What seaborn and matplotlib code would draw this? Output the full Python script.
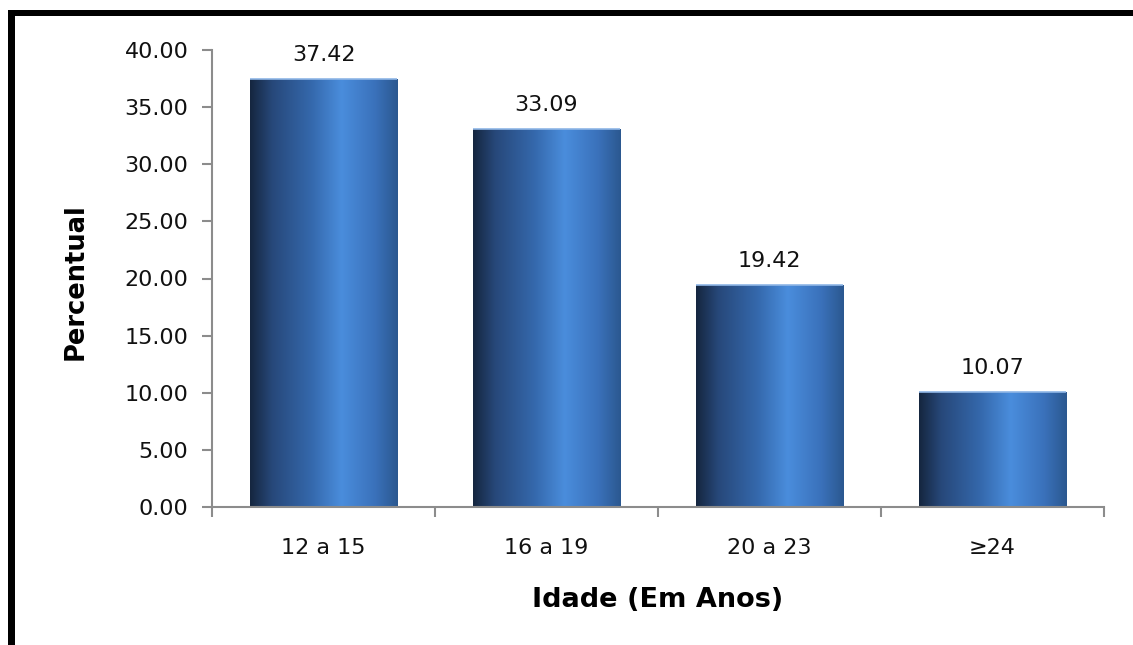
import numpy as np
import pandas as pd
import seaborn as sns
import matplotlib.pyplot as plt
from matplotlib.colors import LinearSegmentedColormap
from matplotlib.patches import Rectangle

# chart data
categories = ["12 a 15", "16 a 19", "20 a 23", "\u226524"]
percentual = [37.42, 33.09, 19.42, 10.07]

df = pd.DataFrame({"idade": categories, "pct": percentual})

sns.set_style("white")
plt.rcParams["font.family"] = ["DejaVu Sans"]
plt.rcParams["text.color"] = "#111111"

fig = plt.figure(figsize=(11.33, 6.45), dpi=100)
ax = fig.add_axes([212 / 1133, 1 - 507 / 645, 892 / 1133, 457 / 645])

sns.barplot(data=df, x="idade", y="pct", color="#3a74c0", width=0.66, ax=ax)

# horizontal gradient to fake the glossy cylinder look
grad_cmap = LinearSegmentedColormap.from_list(
    "bar", [(0.0, "#15263f"), (0.15, "#27487a"), (0.42, "#3569ad"),
            (0.62, "#4a8ddc"), (0.85, "#3a71ba"), (1.0, "#2b5890")])
grad = np.linspace(0, 1, 256).reshape(1, -1)
for p in ax.patches:
    x0, y0 = p.get_x(), p.get_y()
    w, h = p.get_width(), p.get_height()
    im = ax.imshow(grad, cmap=grad_cmap, aspect="auto",
                   extent=(x0, x0 + w, y0, y0 + h), zorder=p.get_zorder() + 0.1)
    im.set_clip_path(p)
    ax.plot([x0, x0 + w], [y0 + h, y0 + h], color="#8fb6e6", lw=1.2,
            zorder=p.get_zorder() + 0.2, solid_capstyle="butt")
    ax.text(x0 + w / 2, y0 + h + 2.1, f"{h:.2f}", ha="center", va="center",
            fontsize=16, color="#111111")

ax.set_xlim(-0.5, 3.5)
ax.set_ylim(0, 40)
ax.set_yticks(np.arange(0, 40.1, 5))
ax.set_yticklabels([f"{v:.2f}" for v in np.arange(0, 40.1, 5)], fontsize=16,
                   color="#111111")
ax.set_xticks([0, 1, 2, 3])
ax.set_xticklabels(categories, fontsize=16, color="#111111")
ax.set_xticks([-0.5, 0.5, 1.5, 2.5, 3.5], minor=True)
ax.tick_params(axis="x", which="major", bottom=False, length=0, pad=22)
ax.tick_params(axis="x", which="minor", bottom=True, length=7, width=1.5,
               color="#8c8c8c")
ax.tick_params(axis="y", left=True, length=7, width=1.5, color="#8c8c8c", pad=10)

for side in ["top", "right"]:
    ax.spines[side].set_visible(False)
for side in ["left", "bottom"]:
    ax.spines[side].set_color("#8c8c8c")
    ax.spines[side].set_linewidth(1.5)

ax.set_xlabel("Idade (Em Anos)", fontsize=19.5, fontweight="bold", color="black")
ax.set_ylabel("Percentual", fontsize=18.5, fontweight="bold", color="black")
ax.xaxis.set_label_coords(0.5, (507 - 587) / 457)
ax.yaxis.set_label_coords((89 - 212) / 892, (507 - 282) / 457)

# black frame (top and left edges visible in the original)
fig.add_artist(Rectangle((8 / 1133, 1 - 16 / 645), 1, 6 / 645,
                         transform=fig.transFigure, color="black", lw=0))
fig.add_artist(Rectangle((8 / 1133, 0), 7 / 1133, 1 - 10 / 645,
                         transform=fig.transFigure, color="black", lw=0))

fig.savefig("out.png", dpi=100)
